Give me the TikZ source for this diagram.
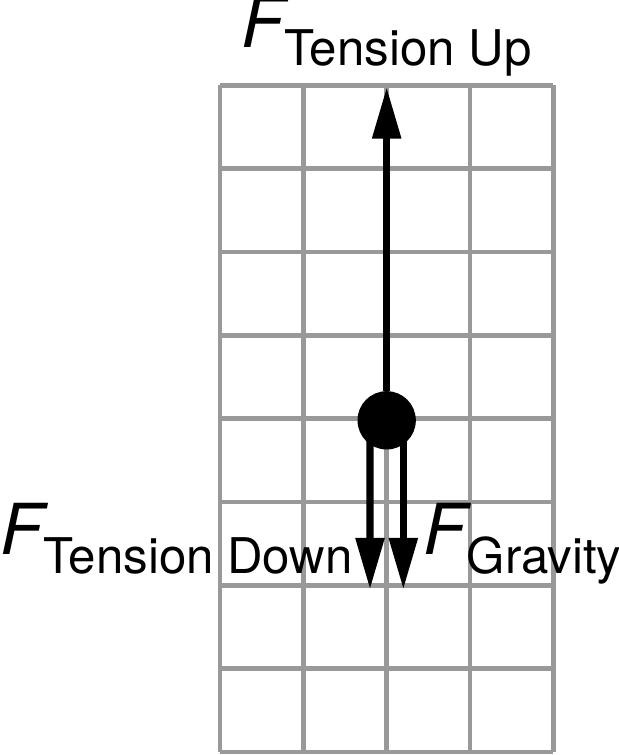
\documentclass[tikz,border=0pt]{standalone}
\usepackage{fontspec}
\setmainfont{TeX Gyre Heros}
\usepackage{xcolor}
\usetikzlibrary{arrows.meta}

\definecolor{gridgray}{gray}{0.6}
\newcommand{\Fsub}[1]{{\fontsize{24}{28}\selectfont\itshape F}\raisebox{-6.2pt}{\fontsize{16.8}{20}\selectfont #1}}

\begin{document}
\begin{tikzpicture}
\tikzset{gridline/.style={draw=gridgray,line width=1.7pt}}
\tikzset{force/.style={line width=2.5pt,-{Triangle[length=0.62cm,width=0.33cm]}}}
\tikzset{forcelabel/.style={inner sep=0pt}}

\useasboundingbox (-2.64,-0.036) rectangle (4.776,9.024);

\draw[gridline] (0,0) grid (4,8);

\node[circle,fill,minimum size=0.7cm,inner sep=0pt] (mass) at (2,3.98) {};
\coordinate (tipup) at (2,7.98);
\coordinate (tipdown) at (1.8,1.95);
\coordinate (tipgrav) at (2.2,1.95);

\draw[force] (mass) -- (tipup);
\draw[force] ([xshift=-0.2cm]mass.center) -- (tipdown);
\draw[force] ([xshift=0.2cm]mass.center) -- (tipgrav);

\node[forcelabel,anchor=base] (labelup) at (2,8.45) {\Fsub{Tension Up}};
\node[forcelabel,anchor=base east] (labeldown) at (1.6,2.364) {\Fsub{Tension Down}};
\node[forcelabel,anchor=base west] (labelgrav) at (2.44,2.364) {\Fsub{Gravity}};

\end{tikzpicture}
\end{document}
